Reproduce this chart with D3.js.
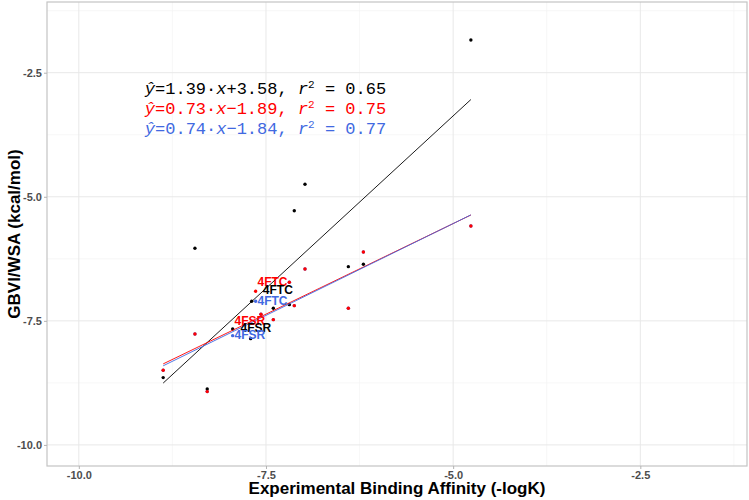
<!DOCTYPE html>
<html><head><meta charset="utf-8">
<script src="https://cdn.jsdelivr.net/npm/d3@7/dist/d3.min.js"></script>
<style>body{margin:0;background:#fff}svg{display:block}</style>
</head><body><svg id="c" width="749" height="500"></svg>
<script>
// ---- data ----
const blackX = [-8.449, -6.199, -6.400, -7.691, -7.402, -7.188, -7.945, -7.705, -8.873, -8.285, -6.979, -7.122, -4.763];
const blackY = [-6.038, -6.360, -6.408, -7.105, -7.246, -7.174, -7.663, -7.859, -8.644, -8.872, -4.748, -5.280, -1.841];
const redX = [-6.199, -6.979, -7.188, -7.638, -7.122, -6.400, -7.567, -7.402, -8.449, -8.873, -8.285, -4.763];
const redY = [-6.112, -6.455, -6.722, -6.904, -7.194, -7.246, -7.367, -7.476, -7.764, -8.495, -8.926, -5.588];
const blueX = [-6.199, -6.979, -7.188, -7.638, -7.122, -6.400, -7.567, -7.402, -8.449, -8.873, -8.285, -4.763, -7.945];
const blueY = [-6.112, -6.455, -6.722, -7.105, -7.194, -7.246, -7.367, -7.476, -7.764, -8.495, -8.926, -5.588, -7.798];
const seriesNames = ["black", "red", "blue"];
const fitSlope = [1.39, 0.73, 0.74];
const fitIntercept = [3.58, -1.89, -1.84];
const fitR2 = [0.65, 0.75, 0.77];
const labelText = ["4FTC", "4FTC", "4FTC", "4FSR", "4FSR", "4FSR"];
const labelSeries = ["red", "black", "blue", "red", "black", "blue"];
const labelX = [-7.413, -7.342, -7.413, -7.714, -7.636, -7.714];
const labelY = [-6.716, -6.878, -7.093, -7.488, -7.637, -7.778];
const xTicks = [-10.0, -7.5, -5.0, -2.5];
const yTicks = [-10.0, -7.5, -5.0, -2.5];
const xMinor = [-8.75, -6.25, -3.75, -1.25];
const yMinor = [-8.75, -6.25, -3.75, -1.25];
const xTitle = "Experimental Binding Affinity (-logK)";
const yTitle = "GBVI/WSA (kcal/mol)";

// ---- styles ----
const colors = {black: "#000000", red: "#FF0000", blue: "#4169E1"};
const svg = d3.select("#c");
const L = 47, R = 747, T = 2, B = 466;
const x = d3.scaleLinear().domain([-10.425, -1.075]).range([L, R]);
const y = d3.scaleLinear().domain([-10.425, -1.075]).range([B, T]);

svg.append("rect").attr("width", 749).attr("height", 500).attr("fill", "#fff");

// grid
const g = svg.append("g");
g.selectAll(".mx").data(xMinor).join("line").attr("x1", d => x(d)).attr("x2", d => x(d)).attr("y1", T).attr("y2", B).attr("stroke", "#f3f3f3").attr("stroke-width", 0.7);
g.selectAll(".my").data(yMinor).join("line").attr("y1", d => y(d)).attr("y2", d => y(d)).attr("x1", L).attr("x2", R).attr("stroke", "#f3f3f3").attr("stroke-width", 0.7);
g.selectAll(".Mx").data(xTicks).join("line").attr("x1", d => x(d)).attr("x2", d => x(d)).attr("y1", T).attr("y2", B).attr("stroke", "#e8e8e8").attr("stroke-width", 1);
g.selectAll(".My").data(yTicks).join("line").attr("y1", d => y(d)).attr("y2", d => y(d)).attr("x1", L).attr("x2", R).attr("stroke", "#e8e8e8").attr("stroke-width", 1);

// points
const series = {
  black: blackX.map((v, i) => [v, blackY[i]]),
  red: redX.map((v, i) => [v, redY[i]]),
  blue: blueX.map((v, i) => [v, blueY[i]])
};
["blue", "black", "red"].forEach(s => {
  svg.append("g").selectAll("circle").data(series[s]).join("circle")
    .attr("cx", d => x(d[0])).attr("cy", d => y(d[1])).attr("r", 1.7).attr("fill", colors[s]);
});

// fit lines
const lineGen = d3.line().x(d => x(d[0])).y(d => y(d[1]));
seriesNames.forEach((s, i) => {
  const ext = d3.extent(series[s], d => d[0]);
  const pts = ext.map(v => [v, fitSlope[i] * v + fitIntercept[i]]);
  svg.append("path").attr("d", lineGen(pts)).attr("fill", "none")
    .attr("stroke", colors[s]).attr("stroke-width", 0.9);
});

// labels
svg.append("g").selectAll("text").data(labelText.map((t, i) => i)).join("text")
  .attr("x", i => x(labelX[i])).attr("y", i => y(labelY[i]))
  .attr("dy", "0.36em").attr("text-anchor", "middle")
  .attr("font-family", "Liberation Sans, Arial, sans-serif").attr("font-weight", "bold")
  .attr("font-size", 12).attr("fill", i => colors[labelSeries[i]])
  .text(i => labelText[i]);

// equations
const fmt = d3.format(".2f");
seriesNames.forEach((s, i) => {
  const t = svg.append("text").attr("x", x(-9.118)).attr("y", y(-2.814) + 20 * i + 6)
    .attr("font-family", "Liberation Mono, DejaVu Sans Mono, monospace")
    .attr("font-size", 17).attr("fill", colors[s]).attr("xml:space", "preserve");
  t.append("tspan").attr("font-style", "italic").text("ŷ");
  t.append("tspan").text("=" + fmt(fitSlope[i]) + "·");
  t.append("tspan").attr("font-style", "italic").text("x");
  const b = fitIntercept[i];
  t.append("tspan").text((b < 0 ? "−" : "+") + fmt(Math.abs(b)) + ", ");
  t.append("tspan").attr("font-style", "italic").text("r");
  t.append("tspan").attr("font-size", 11).attr("dy", -6).text("2");
  t.append("tspan").attr("dy", 6).text(" = " + fmt(fitR2[i]));
});

// panel border
svg.append("rect").attr("x", L).attr("y", T).attr("width", R - L).attr("height", B - T)
  .attr("fill", "none").attr("stroke", "#c4c4c4").attr("stroke-width", 1.2);

// axes
const xa = svg.append("g").attr("transform", `translate(0,${B})`)
  .call(d3.axisBottom(x).tickValues(xTicks).tickFormat(d3.format(".1f")).tickSize(3).tickPadding(2));
const ya = svg.append("g").attr("transform", `translate(${L},0)`)
  .call(d3.axisLeft(y).tickValues(yTicks).tickFormat(d3.format(".1f")).tickSize(3).tickPadding(2));
[xa, ya].forEach(a => {
  a.select(".domain").remove();
  a.selectAll(".tick line").attr("stroke", "#b3b3b3");
  a.selectAll(".tick text").attr("fill", "#4d4d4d").attr("font-size", 11)
    .attr("font-weight", "bold").attr("font-family", "Liberation Sans, Arial, sans-serif");
});
xa.selectAll(".tick text").text(d => d3.format(".1f")(d).replace("−", "-"));
ya.selectAll(".tick text").text(d => d3.format(".1f")(d).replace("−", "-"));

// titles
svg.append("text").attr("x", (L + R) / 2).attr("y", 494).attr("text-anchor", "middle")
  .attr("font-family", "Liberation Sans, Arial, sans-serif").attr("font-weight", "bold")
  .attr("font-size", 17).attr("fill", "#000").text(xTitle);
svg.append("text").attr("transform", `translate(20,${(T + B) / 2}) rotate(-90)`).attr("text-anchor", "middle")
  .attr("font-family", "Liberation Sans, Arial, sans-serif").attr("font-weight", "bold")
  .attr("font-size", 17).attr("fill", "#000").text(yTitle);
</script></body></html>
